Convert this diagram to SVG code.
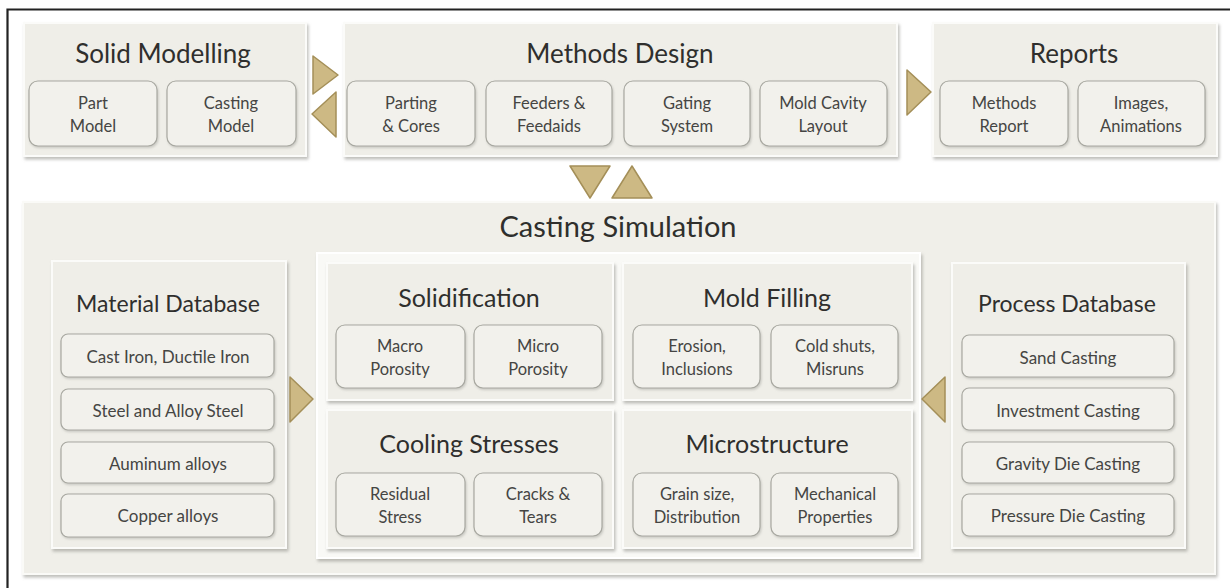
<svg xmlns="http://www.w3.org/2000/svg" width="1230" height="588" viewBox="0 0 1230 588">
  <defs>
    <filter id="shadow" x="-5%" y="-5%" width="112%" height="115%">
      <feDropShadow dx="1.5" dy="2.5" stdDeviation="1.6" flood-color="#8a8a84" flood-opacity="0.55"/>
    </filter>
    <filter id="soft" x="-5%" y="-5%" width="112%" height="115%">
      <feDropShadow dx="1" dy="1.5" stdDeviation="1" flood-color="#9a9a94" flood-opacity="0.45"/>
    </filter>
  </defs>
  <style>
    .panel { fill: #efeee8; stroke: #fbfbf9; stroke-width: 2; filter: url(#shadow); }
    .big { fill: #f0efe9; stroke: #fafaf7; stroke-width: 2; filter: url(#shadow); }
    .frame { fill: #f9f9f6; stroke: #ffffff; stroke-width: 2; filter: url(#shadow); }
    .item { fill: #f2f1ec; stroke: #a8a8a1; stroke-width: 1.2; filter: url(#soft); }
    .arrow { fill: #cdb984; stroke: #a48f58; stroke-width: 1.5; stroke-linejoin: round; }
    text { font-family: Lato, "Open Sans", "Liberation Sans", sans-serif; text-anchor: middle; }
    .h0 { font-size: 29px; fill: #2f2f2d; }
    .h1 { font-size: 26px; fill: #2f2f2d; }
    .h2 { font-size: 25px; fill: #2f2f2d; }
    .h3 { font-size: 23px; fill: #2f2f2d; }
    .t { font-size: 16.5px; fill: #454543; }
    .l { font-size: 17px; fill: #454543; }
  </style>

  <rect width="1230" height="588" fill="#ffffff"/>
  <!-- page frame -->
  <path d="M7.5 588 V9.5 H1230" fill="none" stroke="#222222" stroke-width="2.2"/>

  <!-- Solid Modelling -->
  <g id="solid-modelling">
    <rect class="panel" x="24" y="23" width="282" height="133"/>
    <text class="h1" x="163" y="63">Solid Modelling</text>
    <rect class="item" x="29" y="81" width="128" height="65" rx="9"/>
    <text class="t" x="93" y="109">Part</text>
    <text class="t" x="93" y="132">Model</text>
    <rect class="item" x="167" y="81" width="129" height="65" rx="9"/>
    <text class="t" x="231" y="109">Casting</text>
    <text class="t" x="231" y="132">Model</text>
  </g>

  <!-- Methods Design -->
  <g id="methods-design">
    <rect class="panel" x="344" y="23" width="553" height="133"/>
    <text class="h1" x="620" y="63">Methods Design</text>
    <rect class="item" x="347" y="81" width="128" height="65" rx="9"/>
    <text class="t" x="411" y="109">Parting</text>
    <text class="t" x="411" y="132">&amp; Cores</text>
    <rect class="item" x="486" y="81" width="126" height="65" rx="9"/>
    <text class="t" x="549" y="109">Feeders &amp;</text>
    <text class="t" x="549" y="132">Feedaids</text>
    <rect class="item" x="624" y="81" width="126" height="65" rx="9"/>
    <text class="t" x="687" y="109">Gating</text>
    <text class="t" x="687" y="132">System</text>
    <rect class="item" x="760" y="81" width="127" height="65" rx="9"/>
    <text class="t" x="823" y="109">Mold Cavity</text>
    <text class="t" x="823" y="132">Layout</text>
  </g>

  <!-- Reports -->
  <g id="reports">
    <rect class="panel" x="933" y="23" width="284" height="133"/>
    <text class="h1" x="1074" y="63">Reports</text>
    <rect class="item" x="940" y="81" width="128" height="65" rx="9"/>
    <text class="t" x="1004" y="109">Methods</text>
    <text class="t" x="1004" y="132">Report</text>
    <rect class="item" x="1078" y="81" width="127" height="65" rx="9"/>
    <text class="t" x="1141" y="109">Images,</text>
    <text class="t" x="1141" y="132">Animations</text>
  </g>

  <!-- Casting Simulation -->
  <g id="casting-simulation">
    <rect class="big" x="23" y="202" width="1192" height="372"/>
    <text class="h0" x="618" y="237">Casting Simulation</text>
    <rect class="frame" x="317" y="253" width="603" height="305"/>
  </g>

  <g id="solidification">
    <rect class="panel" x="327" y="263" width="286" height="137"/>
    <text class="h2" x="469" y="307">Solidification</text>
    <rect class="item" x="336" y="325" width="129" height="63" rx="9"/>
    <text class="t" x="400" y="352">Macro</text>
    <text class="t" x="400" y="375">Porosity</text>
    <rect class="item" x="474" y="325" width="128" height="63" rx="9"/>
    <text class="t" x="538" y="352">Micro</text>
    <text class="t" x="538" y="375">Porosity</text>
  </g>

  <g id="mold-filling">
    <rect class="panel" x="623" y="263" width="289" height="137"/>
    <text class="h2" x="767" y="307">Mold Filling</text>
    <rect class="item" x="633" y="325" width="127" height="63" rx="9"/>
    <text class="t" x="697" y="352">Erosion,</text>
    <text class="t" x="697" y="375">Inclusions</text>
    <rect class="item" x="771" y="325" width="127" height="63" rx="9"/>
    <text class="t" x="835" y="352">Cold shuts,</text>
    <text class="t" x="835" y="375">Misruns</text>
  </g>

  <g id="cooling-stresses">
    <rect class="panel" x="327" y="410" width="286" height="138"/>
    <text class="h2" x="469" y="453">Cooling Stresses</text>
    <rect class="item" x="336" y="473" width="129" height="63" rx="9"/>
    <text class="t" x="400" y="500">Residual</text>
    <text class="t" x="400" y="523">Stress</text>
    <rect class="item" x="474" y="473" width="128" height="63" rx="9"/>
    <text class="t" x="538" y="500">Cracks &amp;</text>
    <text class="t" x="538" y="523">Tears</text>
  </g>

  <g id="microstructure">
    <rect class="panel" x="623" y="410" width="289" height="138"/>
    <text class="h2" x="767" y="453">Microstructure</text>
    <rect class="item" x="633" y="473" width="127" height="63" rx="9"/>
    <text class="t" x="697" y="500">Grain size,</text>
    <text class="t" x="697" y="523">Distribution</text>
    <rect class="item" x="771" y="473" width="127" height="63" rx="9"/>
    <text class="t" x="835" y="500">Mechanical</text>
    <text class="t" x="835" y="523">Properties</text>
  </g>

  <!-- Material Database -->
  <g id="material-database">
    <rect class="panel" x="52" y="261" width="234" height="287"/>
    <text class="h3" x="168" y="312">Material Database</text>
    <rect class="item" x="61" y="334" width="213" height="43" rx="7"/>
    <text class="l" x="168" y="363">Cast Iron, Ductile Iron</text>
    <rect class="item" x="61" y="389" width="213" height="41" rx="7"/>
    <text class="l" x="168" y="417">Steel and Alloy Steel</text>
    <rect class="item" x="61" y="442" width="213" height="41" rx="7"/>
    <text class="l" x="168" y="470">Auminum alloys</text>
    <rect class="item" x="61" y="494" width="213" height="43" rx="7"/>
    <text class="l" x="168" y="522">Copper alloys</text>
  </g>

  <!-- Process Database -->
  <g id="process-database">
    <rect class="panel" x="952" y="263" width="233" height="285"/>
    <text class="h3" x="1067" y="312">Process Database</text>
    <rect class="item" x="962" y="335" width="212" height="42" rx="7"/>
    <text class="l" x="1068" y="364">Sand Casting</text>
    <rect class="item" x="962" y="388" width="212" height="42" rx="7"/>
    <text class="l" x="1068" y="417">Investment Casting</text>
    <rect class="item" x="962" y="442" width="212" height="41" rx="7"/>
    <text class="l" x="1068" y="470">Gravity Die Casting</text>
    <rect class="item" x="962" y="494" width="212" height="42" rx="7"/>
    <text class="l" x="1068" y="522">Pressure Die Casting</text>
  </g>

  <!-- connectors -->
  <g id="connectors">
    <polygon class="arrow" points="313,56 338,75 313,94"/>
    <polygon class="arrow" points="336,92 312,114 336,137"/>
    <polygon class="arrow" points="907,70 931,92 907,115"/>
    <polygon class="arrow" points="570,166 610,166 590,198"/>
    <polygon class="arrow" points="612,198 652,198 632,166"/>
    <polygon class="arrow" points="290,377 313,399 290,422"/>
    <polygon class="arrow" points="945,377 922,399 945,422"/>
  </g>
</svg>
